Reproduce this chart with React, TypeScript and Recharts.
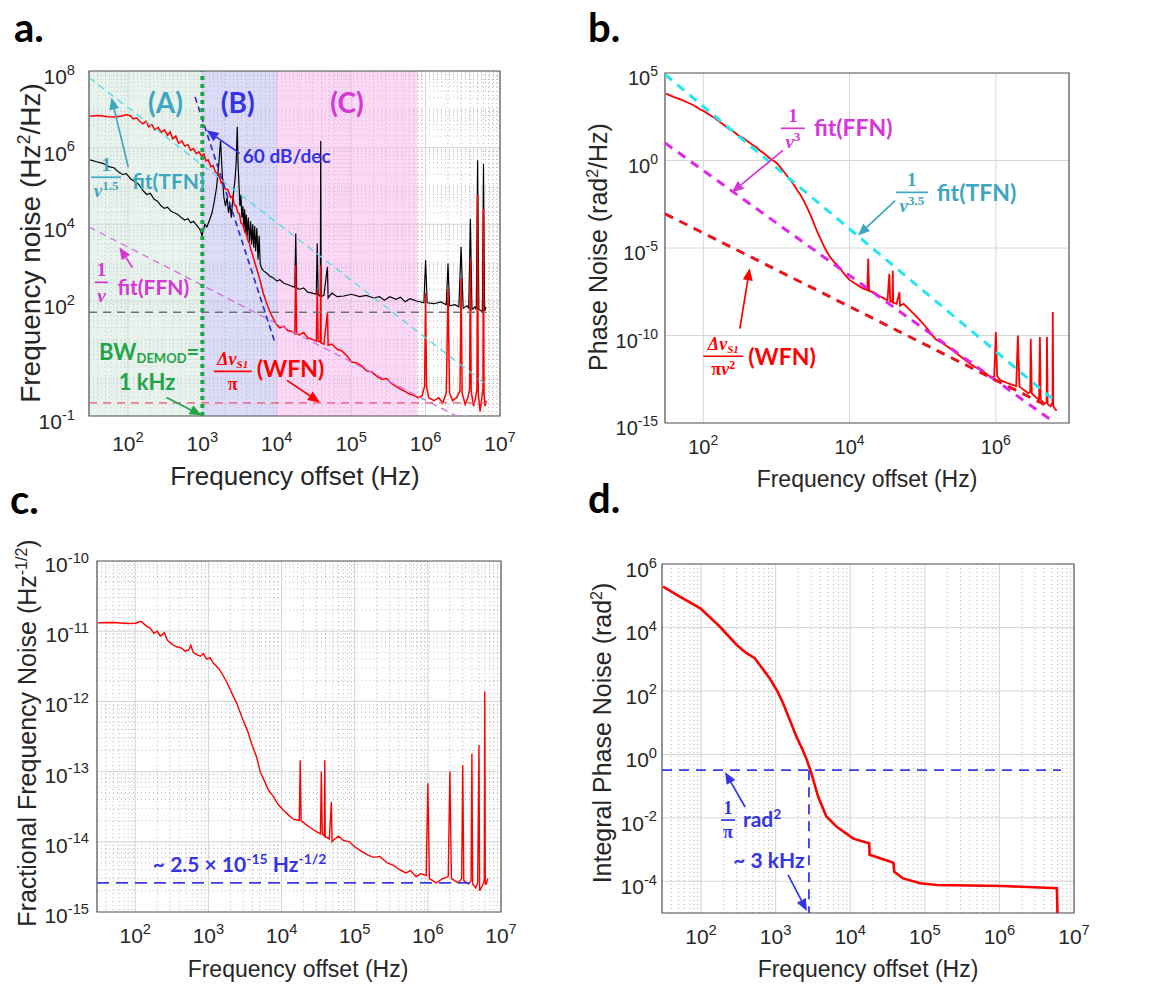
import React from "react";
import {
  LineChart,
  Line,
  XAxis,
  YAxis,
  CartesianGrid,
  ReferenceArea,
  ReferenceLine,
  ReferenceDot,
} from "recharts";

type P = [number, number];

// ---------- panel a: frequency noise (Hz^2/Hz) ----------
const aBlack: P[] = [
  [31, 4.8e5], [38, 4.3e5], [46, 3.9e5], [55, 3.2e5], [65, 3.0e5], [75, 2.3e5], [85, 2.0e5], [95, 2.1e5],
  [110, 1.5e5], [125, 1.3e5], [140, 1.1e5], [160, 7.5e4], [180, 6.0e4], [200, 6.5e4], [225, 4.5e4], [250, 4.0e4],
  [280, 3.0e4], [310, 2.6e4], [340, 2.8e4], [380, 2.2e4], [420, 2.0e4], [470, 1.8e4], [520, 1.5e4], [580, 1.3e4],
  [640, 1.4e4], [700, 1.1e4], [760, 1.2e4], [820, 1.0e4], [880, 8.5e3], [940, 7.0e3], [990, 5.0e3], [1030, 7.0e3],
  [1080, 1.0e4], [1150, 8.5e3], [1250, 1.3e4], [1350, 2.0e4], [1450, 4.0e4], [1550, 9.0e4], [1650, 3.0e5],
  [1720, 9.0e5], [1760, 1.5e6], [1800, 6.0e5], [1870, 1.5e5], [1950, 5.0e4], [2050, 3.0e4], [2150, 5.0e4],
  [2250, 2.0e4], [2350, 3.5e4], [2450, 1.5e4], [2550, 4.0e4], [2650, 8.0e4], [2750, 1.5e5], [2850, 4.0e5],
  [2950, 3.5e6], [3020, 4.0e5], [3100, 1.2e5], [3200, 3.0e4], [3300, 6.0e4], [3400, 1.5e4], [3500, 3.0e4],
  [3600, 8.0e3], [3700, 2.5e4], [3800, 6.0e3], [3900, 1.8e4], [4000, 5.0e3], [4150, 1.5e4], [4300, 3.5e3],
  [4450, 1.2e4], [4600, 3.0e3], [4750, 1.0e4], [4900, 2.5e3], [5050, 9.0e3], [5200, 2.0e3], [5400, 8.0e3],
  [5600, 1.2e3], [5800, 5.0e3], [6000, 900], [6300, 700], [6700, 600], [7200, 550], [8000, 450], [9000, 400],
  [1.0e4, 330], [1.1e4, 360], [1.25e4, 290], [1.4e4, 270], [1.6e4, 240], [1.75e4, 230], [1.8e4, 5.8e3],
  [1.85e4, 220], [2.0e4, 200], [2.3e4, 220], [2.6e4, 170], [3.0e4, 160], [3.4e4, 150], [3.5e4, 3.2e3],
  [3.6e4, 150], [3.85e4, 130], [3.9e4, 1.5e6], [3.95e4, 130], [4.3e4, 140], [4.8e4, 780], [4.9e4, 120],
  [5.5e4, 160], [6.5e4, 130], [8.0e4, 135], [1.0e5, 150], [1.3e5, 130], [1.6e5, 140], [2.0e5, 120],
  [2.4e5, 130], [2.8e5, 105], [3.3e5, 130], [4.0e5, 110], [4.6e5, 125], [5.3e5, 95], [6.2e5, 115],
  [7.5e5, 100], [9.5e5, 90], [1.0e6, 1.15e3], [1.05e6, 90], [1.3e6, 85], [1.6e6, 95], [1.9e6, 80],
  [2.0e6, 950], [2.1e6, 75], [2.5e6, 80], [2.8e6, 70], [3.0e6, 2.6e3], [3.2e6, 65], [3.6e6, 75], [3.8e6, 65],
  [4.0e6, 1.4e4], [4.2e6, 60], [4.6e6, 70], [4.8e6, 60], [5.0e6, 4.7e5], [5.2e6, 60], [5.6e6, 55],
  [5.8e6, 50], [6.0e6, 3.8e5], [6.2e6, 55], [6.5e6, 70],
];

const aRed: P[] = [
  [31, 6.6e6], [38, 6.9e6], [46, 6.7e6], [55, 6.4e6], [66, 6.3e6], [80, 6.6e6], [95, 7.2e6], [108, 6.8e6],
  [118, 5.6e6], [130, 6.0e6], [145, 4.8e6], [160, 4.2e6], [175, 4.9e6], [190, 3.5e6], [210, 4.0e6],
  [230, 2.9e6], [255, 3.4e6], [280, 2.5e6], [310, 2.9e6], [340, 2.1e6], [370, 2.6e6], [400, 1.7e6],
  [440, 2.0e6], [480, 1.3e6], [530, 1.5e6], [580, 1.1e6], [640, 1.2e6], [700, 8.5e5], [760, 9.5e5],
  [830, 7.0e5], [900, 7.8e5], [980, 6.0e5], [1050, 6.8e5], [1120, 4.5e5], [1200, 4.8e5], [1300, 3.2e5],
  [1400, 3.4e5], [1500, 2.3e5], [1650, 2.0e5], [1800, 1.2e5], [1900, 1.4e5], [2000, 8.5e4], [2200, 8.0e4],
  [2400, 5.0e4], [2550, 5.5e4], [2700, 3.2e4], [2850, 3.0e4], [3000, 2.0e4], [3150, 1.9e4], [3300, 1.1e4],
  [3500, 1.0e4], [3700, 6.5e3], [3900, 5.5e3], [4100, 3.8e3], [4300, 3.2e3], [4500, 2.1e3], [4750, 1.6e3],
  [5000, 1.1e3], [5500, 600], [6000, 330], [6600, 160], [7200, 95], [8000, 55], [9000, 34], [1.0e4, 24],
  [1.1e4, 20], [1.25e4, 22], [1.4e4, 17], [1.6e4, 16], [1.75e4, 14], [1.8e4, 850], [1.85e4, 14],
  [2.0e4, 13], [2.3e4, 15], [2.6e4, 11], [3.0e4, 10], [3.4e4, 9], [3.5e4, 190], [3.6e4, 9], [3.85e4, 8.5],
  [3.9e4, 850], [3.95e4, 8], [4.3e4, 7.5], [4.8e4, 50], [4.9e4, 7], [5.5e4, 7.5], [6.5e4, 5.5], [7.5e4, 5],
  [9.0e4, 3.5], [1.0e5, 2.6], [1.2e5, 2.4], [1.4e5, 2.0], [1.6e5, 1.5], [1.9e5, 1.4], [2.2e5, 1.1],
  [2.6e5, 0.9], [3.0e5, 0.95], [3.5e5, 0.7], [4.0e5, 0.6], [4.6e5, 0.5], [5.2e5, 0.45], [6.0e5, 0.38],
  [7.0e5, 0.34], [8.0e5, 0.3], [9.0e5, 0.34], [9.7e5, 0.6], [1.0e6, 160], [1.03e6, 0.6], [1.1e6, 0.3],
  [1.3e6, 0.25], [1.5e6, 0.3], [1.7e6, 0.22], [1.9e6, 0.4], [2.0e6, 200], [2.1e6, 0.4], [2.3e6, 0.25],
  [2.6e6, 0.3], [2.9e6, 0.45], [3.0e6, 400], [3.1e6, 0.4], [3.4e6, 0.2], [3.7e6, 0.3], [3.9e6, 0.5],
  [4.0e6, 1300], [4.1e6, 0.45], [4.4e6, 0.18], [4.7e6, 0.3], [4.9e6, 0.5], [5.0e6, 6.0e4], [5.1e6, 0.4],
  [5.4e6, 0.13], [5.7e6, 0.3], [5.9e6, 0.5], [6.0e6, 2.5e4], [6.1e6, 0.4], [6.3e6, 0.18], [6.5e6, 0.25],
];

const aFitTfn: P[] = [[30, 6.8e7], [6.8e6, 0.62]];
const aFitFfn: P[] = [[30, 8.5e3], [2.6e6, 0.1]];
const aSlope60: P[] = [[800, 2.1e7], [9.5e3, 8]];
const aFloorBlack: P[] = [[30, 51], [6.6e6, 51]];
const aFloorWfn: P[] = [[30, 0.22], [6.6e6, 0.22]];
const aRegions = [
  { from: 30, to: 1e3, fill: "#d3e7dd" },
  { from: 1e3, to: 1e4, fill: "#b9b9f1" },
  { from: 1e4, to: 7.8e5, fill: "#f7b3ed" },
];
const demodBw = 1e3;

// ---------- panel b: phase noise (rad^2/Hz) ----------
const bRed: P[] = [
  [31, 6.6e3], [40, 4.2e3], [50, 3.0e3], [62, 2.0e3], [75, 1.4e3], [90, 850], [105, 620], [120, 430],
  [140, 290], [165, 170], [190, 110], [220, 68], [260, 45], [300, 28], [350, 19], [400, 13], [460, 8.5],
  [530, 5.8], [600, 3.6], [700, 2.3], [800, 1.4], [900, 1.0], [1000, 0.75], [1150, 0.38], [1300, 0.2],
  [1500, 0.09], [1700, 0.045], [1900, 0.022], [2100, 0.012], [2400, 4.5e-3], [2700, 1.6e-3], [3000, 6e-4],
  [3300, 2.2e-4], [3600, 9e-5], [3900, 4.3e-5], [4300, 1.8e-5], [4800, 7e-6], [5400, 3.1e-6], [6000, 1.8e-6],
  [6600, 1.2e-6], [7500, 6.5e-7], [8500, 3.2e-7], [1.0e4, 1.5e-7], [1.2e4, 9e-8], [1.4e4, 6e-8], [1.6e4, 4.5e-8],
  [1.75e4, 4e-8], [1.8e4, 2.5e-6], [1.85e4, 3.5e-8], [2.1e4, 3e-8], [2.5e4, 1.9e-8], [2.9e4, 1.4e-8],
  [3.3e4, 1.0e-8], [3.5e4, 3.4e-7], [3.6e4, 9e-9], [3.85e4, 8e-9], [3.9e4, 5e-7], [3.95e4, 7.5e-9],
  [4.4e4, 6.5e-9], [4.8e4, 3e-8], [4.9e4, 5e-9], [5.5e4, 6.5e-9], [6.5e4, 3.2e-9], [7.5e4, 1.8e-9],
  [9.0e4, 8e-10], [1.05e5, 4e-10], [1.25e5, 1.6e-10], [1.5e5, 6e-11], [1.8e5, 4e-11], [2.2e5, 2.3e-11],
  [2.6e5, 1.4e-11], [3.2e5, 7e-12], [3.8e5, 4e-12], [4.4e5, 2.5e-12], [5.2e5, 1.6e-12], [6.2e5, 1.1e-12],
  [7.4e5, 6.6e-13], [8.5e5, 4e-13], [9.5e5, 4.5e-13], [1.0e6, 1.6e-10], [1.04e6, 5e-13], [1.15e6, 2.8e-13],
  [1.4e6, 2e-13], [1.7e6, 1.5e-13], [1.9e6, 1.3e-13], [2.0e6, 1.0e-10], [2.1e6, 1.2e-13], [2.5e6, 7e-14],
  [2.8e6, 5e-14], [2.95e6, 6e-14], [3.0e6, 6.6e-11], [3.1e6, 5e-14], [3.5e6, 3e-14], [3.9e6, 2.2e-14],
  [4.0e6, 8.3e-11], [4.1e6, 2.2e-14], [4.6e6, 1.3e-14], [4.95e6, 1.5e-14], [5.0e6, 8.3e-11], [5.1e6, 1.2e-14],
  [5.6e6, 9e-15], [5.95e6, 1.5e-14], [6.0e6, 2.2e-9], [6.1e6, 9e-15], [6.5e6, 6e-15], [6.8e6, 5.2e-15],
];
const bFitTfn: P[] = [[30, 8.3e4], [6.8e6, 1.5e-14]];
const bFitFfn: P[] = [[30, 10], [6.45e6, 1e-15]];
const bFitWfn: P[] = [[30, 9e-4], [4.9e6, 1e-14]];

// ---------- panel c: fractional frequency noise (Hz^-1/2) ----------
const cRed: P[] = [
  [31, 1.32e-11], [50, 1.33e-11], [80, 1.29e-11], [100, 1.3e-11], [120, 1.38e-11], [140, 1.2e-11],
  [160, 1.1e-11], [180, 9.3e-12], [200, 1.0e-11], [220, 8.5e-12], [250, 9.5e-12], [275, 7.4e-12],
  [320, 6.5e-12], [370, 6.0e-12], [420, 5.8e-12], [480, 5.2e-12], [540, 5.4e-12], [575, 6.3e-12],
  [620, 5.0e-12], [700, 4.6e-12], [780, 4.4e-12], [850, 4.8e-12], [950, 4.0e-12], [1050, 4.2e-12],
  [1175, 3.5e-12], [1400, 2.9e-12], [1600, 2.3e-12], [1820, 1.8e-12], [2100, 1.3e-12], [2450, 9.3e-13],
  [2900, 5.8e-13], [3400, 3.9e-13], [3900, 2.5e-13], [4570, 1.6e-13], [5100, 1.0e-13], [5750, 7.6e-14],
  [6600, 5.5e-14], [7760, 4.4e-14], [9000, 3.4e-14], [1.07e4, 2.8e-14], [1.25e4, 2.4e-14], [1.45e4, 2.1e-14],
  [1.75e4, 2.0e-14], [1.8e4, 1.45e-13], [1.85e4, 2.0e-14], [2.1e4, 1.8e-14], [2.45e4, 1.6e-14], [3.0e4, 1.4e-14],
  [3.4e4, 1.3e-14], [3.5e4, 1.0e-13], [3.6e4, 1.3e-14], [3.85e4, 1.2e-14], [3.9e4, 1.45e-13], [3.95e4, 1.2e-14],
  [4.5e4, 1.1e-14], [4.8e4, 3.7e-14], [4.9e4, 1.0e-14], [5.1e4, 1.05e-14], [6.0e4, 1.2e-14], [7.0e4, 1.05e-14],
  [8.5e4, 1.0e-14], [1.0e5, 8.5e-15], [1.17e5, 7.6e-15], [1.5e5, 6.5e-15], [1.8e5, 6.0e-15], [2.2e5, 6.2e-15],
  [2.8e5, 5.0e-15], [3.4e5, 4.6e-15], [4.1e5, 4.0e-15], [5.0e5, 3.6e-15], [5.8e5, 3.9e-15], [6.9e5, 3.2e-15],
  [8.0e5, 3.5e-15], [9.5e5, 3.3e-15], [1.0e6, 6.8e-14], [1.05e6, 3.0e-15], [1.3e6, 2.6e-15], [1.6e6, 3.0e-15],
  [1.9e6, 3.2e-15], [2.0e6, 1.0e-13], [2.1e6, 3.0e-15], [2.6e6, 2.6e-15], [2.9e6, 3.0e-15], [3.0e6, 1.23e-13],
  [3.1e6, 2.8e-15], [3.6e6, 2.5e-15], [3.9e6, 2.8e-15], [4.0e6, 1.8e-13], [4.1e6, 2.5e-15], [4.5e6, 2.2e-15],
  [4.8e6, 2.6e-15], [5.0e6, 2.4e-13], [5.1e6, 2.0e-15], [5.6e6, 2.4e-15], [5.9e6, 2.8e-15], [6.0e6, 1.4e-12],
  [6.1e6, 2.5e-15], [6.3e6, 2.5e-15], [6.6e6, 3.0e-15],
];
const cFloor: P[] = [[30, 2.6e-15], [4.1e6, 2.6e-15]];

// ---------- panel d: integral phase noise (rad^2) ----------
const dRed: P[] = [
  [31, 1.95e5], [52, 9.3e4], [98, 4.0e4], [178, 1.07e4], [302, 2.8e3], [400, 1.6e3], [525, 1.07e3],
  [832, 251], [1050, 100], [1260, 40.7], [1600, 10], [1905, 3.6], [2300, 1.4], [2630, 0.66], [3020, 0.25],
  [3715, 0.047], [4790, 0.011], [6600, 5.2e-3], [1.1e4, 2.2e-3], [1.74e4, 1.6e-3], [1.8e4, 1.55e-3],
  [1.82e4, 6.8e-4], [3.4e4, 4.2e-4], [3.8e4, 3.8e-4], [3.9e4, 2.0e-4], [5.1e4, 1.23e-4], [8.7e4, 8.7e-5],
  [1.45e5, 7.6e-5], [1.1e6, 7.1e-5], [5.9e6, 6.0e-5], [6.0e6, 1e-5],
];
const dInvPi: P[] = [[30, 0.318], [6.7e6, 0.318]];
const dCorner: P[] = [[2800, 0.318], [2800, 1e-5]];

// ---------- styling ----------
const AX = "#262626";
const SANS = '"Liberation Sans", Arial, sans-serif';
const LATO = 'Lato, "Open Sans", sans-serif';
const SERIF = '"Liberation Serif", "DejaVu Serif", serif';
const RED = "#ff0000";
const TEAL = "#3fa6c0";
const MAG = "#d636d6";
const BLUE = "#3434e6";
const GREEN = "#22a34a";

const pts = (a: P[]) => a.map(([x, y]) => ({ x, y }));
const decades = (lo: number, hi: number) => {
  const out: number[] = [];
  for (let e = Math.ceil(Math.log10(lo) - 1e-9); e <= Math.floor(Math.log10(hi) + 1e-9); e++) out.push(10 ** e);
  return out;
};
const minors = (lo: number, hi: number) => {
  const out: number[] = [];
  for (let e = Math.floor(Math.log10(lo)); e < Math.log10(hi); e++)
    for (let m = 1; m < 10; m++) {
      const v = m * 10 ** e;
      if (v > lo * 1.0001 && v < hi * 0.9999) out.push(v);
    }
  return out;
};
const expOf = (v: number) => String(Math.round(Math.log10(v)));

const makeXTick = (fs: number, dy: number) => (p: any) => (
  <text x={p.x} y={p.y + dy} textAnchor="middle" fontSize={fs} fill={AX} fontFamily={SANS}>
    10<tspan dy={-fs * 0.45} fontSize={fs * 0.7}>{expOf(p.payload.value)}</tspan>
  </text>
);
const makeYTick = (fs: number, dx: number, dy: number) => (p: any) => (
  <text x={p.x - dx} y={p.y + dy} textAnchor="end" fontSize={fs} fill={AX} fontFamily={SANS}>
    10<tspan dy={-fs * 0.45} fontSize={fs * 0.7}>{expOf(p.payload.value)}</tspan>
  </text>
);

function Arrow({ x1, y1, x2, y2, color, w }: any) {
  if ([x1, y1, x2, y2].some((v) => typeof v !== "number" || isNaN(v))) return null;
  const a = Math.atan2(y2 - y1, x2 - x1);
  const L = 12;
  const H = 5;
  const bx = x2 - L * Math.cos(a);
  const by = y2 - L * Math.sin(a);
  const px = -Math.sin(a) * H;
  const py = Math.cos(a) * H;
  return (
    <g>
      <line x1={x1} y1={y1} x2={bx} y2={by} stroke={color} strokeWidth={w} />
      <polygon points={`${x2},${y2} ${bx + px},${by + py} ${bx - px},${by - py}`} fill={color} />
    </g>
  );
}

const arrow = (key: string, from: P, to: P, color: string, w = 1.7) => (
  <ReferenceLine
    key={key}
    ifOverflow="visible"
    segment={[{ x: from[0], y: from[1] }, { x: to[0], y: to[1] }]}
    shape={(p: any) => <Arrow x1={p.x1} y1={p.y1} x2={p.x2} y2={p.y2} color={color} w={w} />}
  />
);

const note = (key: string, x: number, y: number, draw: (cx: number, cy: number) => React.ReactNode) => (
  <ReferenceDot
    key={key}
    x={x}
    y={y}
    r={0}
    ifOverflow="visible"
    shape={(p: any) => <g>{draw(p.cx, p.cy)}</g>}
  />
);

const frac = (cx: number, cy: number, num: React.ReactNode, den: React.ReactNode, color: string, fs: number, bw: number) => (
  <g fill={color} fontFamily={SERIF} fontWeight={700} fontSize={fs}>
    <text x={cx} y={cy - 6} textAnchor="middle">{num}</text>
    <line x1={cx - bw / 2} x2={cx + bw / 2} y1={cy} y2={cy} stroke={color} strokeWidth={1.7} />
    <text x={cx} y={cy + fs * 1.02} textAnchor="middle">{den}</text>
  </g>
);

const word = (x: number, y: number, s: React.ReactNode, color: string, fs: number, anchor: "start" | "middle" = "start") => (
  <text x={x} y={y} fill={color} fontSize={fs} fontWeight={700} fontFamily={LATO} textAnchor={anchor}>
    {s}
  </text>
);

const nu = <tspan fontStyle="italic">ν</tspan>;
const dnuS1 = (
  <>
    <tspan fontStyle="italic">Δν</tspan>
    <tspan fontStyle="italic" fontSize={11} dy={3}>S1</tspan>
  </>
);

type PanelProps = {
  x0: number; y0: number; w: number; h: number;
  l: number; t: number; r: number; b: number;
  yDomain: [number, number];
  xTicks: number[]; yTicks: number[];
  majorX: number[]; majorY: number[];
  minorX: number[]; minorY: number[];
  fs: number; xdy: number; ydx: number; ydy: number;
  under?: React.ReactNode;
  children?: React.ReactNode;
};

const X_DOMAIN: [number, number] = [30, 1e7];

function Panel(p: PanelProps) {
  return (
    <div style={{ position: "absolute", left: p.x0, top: p.y0 }}>
      <LineChart width={p.w} height={p.h} margin={{ top: p.t, right: p.r, bottom: 0, left: 0 }}>
        <XAxis
          type="number" dataKey="x" scale="log" domain={X_DOMAIN} allowDataOverflow ticks={p.xTicks}
          interval={0} tick={makeXTick(p.fs, p.xdy)} tickLine={false} axisLine={false}
          tickSize={0} tickMargin={0} height={p.b}
        />
        <YAxis
          type="number" scale="log" domain={p.yDomain} allowDataOverflow ticks={p.yTicks}
          interval={0} tick={makeYTick(p.fs, p.ydx, p.ydy)} tickLine={false} axisLine={false}
          tickSize={0} tickMargin={0} width={p.l}
        />
        {p.under}
        {(p.minorX.length > 0 || p.minorY.length > 0) && (
          <CartesianGrid
            vertical={p.minorX.length > 0}
            horizontal={p.minorY.length > 0}
            verticalValues={p.minorX}
            horizontalValues={p.minorY}
            stroke="#b8b8b8"
            strokeDasharray="1 3"
          />
        )}
        <CartesianGrid verticalValues={p.majorX} horizontalValues={p.majorY} stroke="#d6d6d6" />
        {p.children}
        <ReferenceArea
          x1={X_DOMAIN[0]} x2={X_DOMAIN[1]} y1={p.yDomain[0]} y2={p.yDomain[1]}
          fill="none" stroke="#4d4d4d" strokeWidth={1.2} ifOverflow="visible"
        />
      </LineChart>
    </div>
  );
}

const line = (key: string, data: P[], color: string, width: number, dash?: string) => (
  <Line
    key={key}
    data={pts(data)}
    dataKey="y"
    type="linear"
    stroke={color}
    strokeWidth={width}
    strokeDasharray={dash}
    dot={false}
    activeDot={false}
    isAnimationActive={false}
  />
);

export default function App() {
  const xDec = decades(100, 1e7);
  return (
    <div
      style={{
        position: "absolute", left: 0, top: 0, width: 1151, height: 985,
        background: "#fff", overflow: "hidden", fontFamily: SANS,
      }}
    >
      {/* a. frequency noise */}
      <Panel
        x0={0} y0={0} w={575} h={490} l={89} t={71} r={75} b={74}
        yDomain={[0.1, 1e8]} xTicks={xDec} yTicks={[0.1, 1e2, 1e4, 1e6, 1e8]}
        majorX={decades(100, 1e6)} majorY={[1e2, 1e4, 1e6]}
        minorX={minors(30, 1e7)} minorY={minors(0.1, 1e8)}
        fs={21} xdy={35} ydx={14} ydy={13}
        under={aRegions.map((g, i) => (
          <ReferenceArea key={"reg" + i} x1={g.from} x2={g.to} fill={g.fill} fillOpacity={0.5} stroke="none" />
        ))}
      >
        {line("aBlack", aBlack, "#000000", 1.2)}
        {line("aRed", aRed, RED, 1.5)}
        {line("aTfn", aFitTfn, "#4fdbe6", 1.3, "7 5")}
        {line("aFfn", aFitFfn, "#cf6ee0", 1.3, "7 5")}
        {line("a60", aSlope60, "#2a2ac8", 1.6, "6 4")}
        {line("aGray", aFloorBlack, "#707070", 1.6, "8 6")}
        {line("aWfn", aFloorWfn, "#f0506a", 1.3, "8 6")}
        <ReferenceLine x={demodBw} stroke={GREEN} strokeWidth={4} strokeDasharray="4 4" />
        {note("A", 320, 7.9e6, (x, y) => word(x, y, "(A)", TEAL, 28, "middle"))}
        {note("B", 2990, 7.9e6, (x, y) => word(x, y, "(B)", BLUE, 28, "middle"))}
        {note("C", 8.8e4, 7.9e6, (x, y) => word(x, y, "(C)", MAG, 28, "middle"))}
        {note("s60", 3490, 3.9e5, (x, y) => word(x, y, "60 dB/dec", BLUE, 19))}
        {note("tfn", 51, 1.69e5, (x, y) => (
          <g>
            {frac(x, y, "1", <>{nu}<tspan fontSize={13} dy={-7}>1.5</tspan></>, TEAL, 19, 30)}
            {word(x + 26, y + 12, "fit(TFN)", TEAL, 21)}
          </g>
        ))}
        {note("ffn", 44, 307, (x, y) => (
          <g>
            {frac(x, y, "1", nu, MAG, 19, 13)}
            {word(x + 16, y + 13, "fit(FFN)", MAG, 21)}
          </g>
        ))}
        {note("wfn", 2560, 1.46, (x, y) => (
          <g>
            {frac(x, y, dnuS1, "π", RED, 18, 38)}
            {word(x + 24, y + 6, "(WFN)", RED, 23)}
          </g>
        ))}
        {note("bw", 41, 2.83, (x, y) => (
          <g>
            {word(x, y, <>BW<tspan fontSize={13} dy={3}>DEMOD</tspan><tspan dy={-3}>=</tspan></>, GREEN, 22)}
            {word(x + 48, y + 30, "1 kHz", GREEN, 22, "middle")}
          </g>
        ))}
        {arrow("arTfn", [101, 3.1e5], [60, 2.04e7], TEAL)}
        {arrow("ar60", [3180, 7.1e5], [1140, 2.84e6], BLUE)}
        {arrow("arFfn", [115, 750], [77, 2500], MAG)}
        {arrow("arBw", [330, 0.305], [980, 0.104], GREEN)}
        {arrow("arWfn", [1.37e4, 0.85], [3.8e4, 0.226], RED)}
      </Panel>

      {/* b. phase noise */}
      <Panel
        x0={575} y0={0} w={576} h={490} l={90} t={73} r={82} b={67}
        yDomain={[1e-15, 1e5]} xTicks={[1e2, 1e4, 1e6]} yTicks={[1e-15, 1e-10, 1e-5, 1, 1e5]}
        majorX={[1e2, 1e4, 1e6]} majorY={[1e-10, 1e-5, 1]}
        minorX={[]} minorY={[]}
        fs={20} xdy={31} ydx={7} ydy={12}
      >
        {line("bRed", bRed, RED, 1.8)}
        {line("bTfn", bFitTfn, "#22e6f0", 3, "9 7")}
        {line("bFfn", bFitFfn, "#e026ea", 3, "9 7")}
        {line("bWfn", bFitWfn, "#e8141e", 3, "9 7")}
        {note("bffn", 1680, 69, (x, y) => (
          <g>
            {frac(x, y, "1", <>{nu}<tspan fontSize={13} dy={-7}>3</tspan></>, MAG, 19, 24)}
            {word(x + 21, y + 8, "fit(FFN)", MAG, 23)}
          </g>
        ))}
        {note("btfn", 7.1e4, 0.015, (x, y) => (
          <g>
            {frac(x, y, "1", <>{nu}<tspan fontSize={13} dy={-7}>3.5</tspan></>, TEAL, 19, 32)}
            {word(x + 25, y + 9, "fit(TFN)", TEAL, 23)}
          </g>
        ))}
        {note("bwfn", 188, 6.5e-12, (x, y) => (
          <g>
            {frac(x, y, dnuS1, <>π{nu}<tspan fontSize={12} dy={-6}>2</tspan></>, RED, 18, 40)}
            {word(x + 25, y + 9, "(WFN)", RED, 23)}
          </g>
        ))}
        {arrow("bArFfn", [1230, 3.8], [245, 0.0148], MAG)}
        {arrow("bArTfn", [4.2e4, 5.1e-3], [1.3e4, 5.1e-5], TEAL)}
        {arrow("bArWfn", [316, 2.5e-10], [432, 6.9e-7], RED)}
      </Panel>

      {/* c. fractional frequency noise */}
      <Panel
        x0={0} y0={490} w={575} h={495} l={97} t={71} r={74} b={73}
        yDomain={[1e-15, 1e-10]} xTicks={xDec} yTicks={decades(1e-15, 1e-10)}
        majorX={decades(100, 1e6)} majorY={decades(1e-14, 1e-11)}
        minorX={minors(30, 1e7)} minorY={minors(1e-15, 1e-10)}
        fs={21} xdy={31} ydx={8} ydy={11}
      >
        {line("cRed", cRed, RED, 1.4)}
        {line("cFloor", cFloor, "#3b3bea", 1.8, "12 7")}
        {note("cTxt", 174, 3.7e-15, (x, y) =>
          word(x, y, <>~ 2.5 × 10<tspan fontSize={14} dy={-8}>-15</tspan><tspan dy={8}> Hz</tspan><tspan fontSize={14} dy={-8}>-1/2</tspan></>, BLUE, 21)
        )}
      </Panel>

      {/* d. integral phase noise */}
      <Panel
        x0={575} y0={490} w={576} h={495} l={87} t={74} r={77} b={72}
        yDomain={[1e-5, 1e6]} xTicks={xDec} yTicks={[1e-4, 1e-2, 1, 1e2, 1e4, 1e6]}
        majorX={decades(100, 1e6)} majorY={[1e-4, 1e-2, 1, 1e2, 1e4]}
        minorX={minors(30, 1e7)} minorY={[]}
        fs={21} xdy={31} ydx={5} ydy={13}
      >
        {line("dRed", dRed, RED, 2.6)}
        {line("dInvPi", dInvPi, "#3b3bea", 1.8, "10 7")}
        {line("dCorner", dCorner, "#3b3bea", 1.8, "10 7")}
        {note("dPi", 230, 8.5e-3, (x, y) => (
          <g>
            {frac(x, y, "1", "π", BLUE, 18, 14)}
            {word(x + 15, y + 7, <>rad<tspan fontSize={14} dy={-8}>2</tspan></>, BLUE, 21)}
          </g>
        ))}
        {note("d3k", 270, 2.6e-4, (x, y) => word(x, y, "~ 3 kHz", BLUE, 21))}
        {arrow("dAr1", [390, 0.0219], [210, 0.279], BLUE)}
        {arrow("dAr2", [1470, 1.58e-4], [2630, 1.15e-5], BLUE)}
      </Panel>

      {/* panel letters and axis titles */}
      <svg width={1151} height={985} style={{ position: "absolute", left: 0, top: 0, pointerEvents: "none" }}>
        <g fontFamily={LATO} fontWeight={700} fontSize={40} fill="#000">
          <text x={14} y={42}>a.</text>
          <text x={588} y={42}>b.</text>
          <text x={10} y={514}>c.</text>
          <text x={588} y={513}>d.</text>
        </g>
        <g fontFamily={SANS} fill={AX} textAnchor="middle">
          <text x={295} y={485} fontSize={26}>Frequency offset (Hz)</text>
          <text transform="translate(40,243) rotate(-90)" fontSize={28}>
            Frequency noise (Hz<tspan dy={-10} fontSize={18}>2</tspan><tspan dy={10}>/Hz)</tspan>
          </text>
          <text x={867} y={487} fontSize={23}>Frequency offset (Hz)</text>
          <text transform="translate(607,247) rotate(-90)" fontSize={25}>
            Phase Noise (rad<tspan dy={-9} fontSize={16}>2</tspan><tspan dy={9}>/Hz)</tspan>
          </text>
          <text x={298} y={977} fontSize={23}>Frequency offset (Hz)</text>
          <text transform="translate(36,733) rotate(-90)" fontSize={25}>
            Fractional Frequency Noise (Hz<tspan dy={-9} fontSize={16}>-1/2</tspan><tspan dy={9}>)</tspan>
          </text>
          <text x={868} y={977} fontSize={23}>Frequency offset (Hz)</text>
          <text transform="translate(611,733) rotate(-90)" fontSize={25}>
            Integral Phase Noise (rad<tspan dy={-9} fontSize={16}>2</tspan><tspan dy={9}>)</tspan>
          </text>
        </g>
      </svg>
    </div>
  );
}
